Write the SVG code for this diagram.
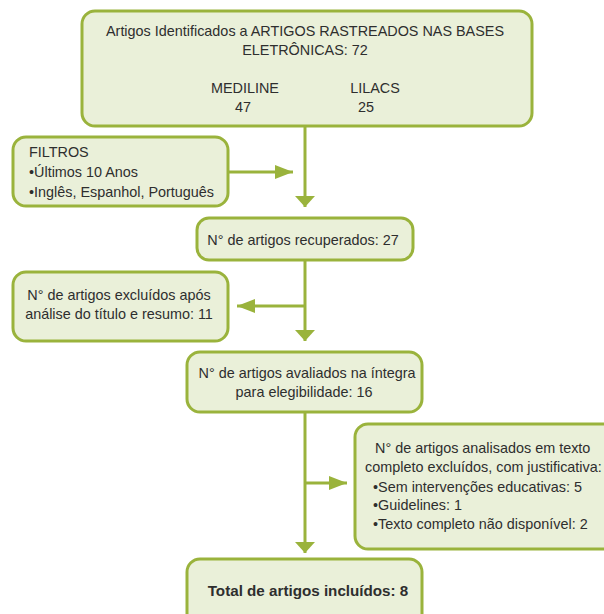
<svg xmlns="http://www.w3.org/2000/svg" width="604" height="614" viewBox="0 0 604 614">
<style>
.box{fill:#eaf0d9;stroke:#9ab33c;stroke-width:3}
.t{font-family:"Liberation Sans",Arial,sans-serif;font-size:14.4px;fill:#2e2e2e}
.c{text-anchor:middle}
.b{font-weight:bold;font-size:15.2px}
.ln{stroke:#9ab33c;stroke-width:3;fill:none}
</style>
<defs>
<marker id="down" markerUnits="userSpaceOnUse" markerWidth="12" markerHeight="20" refX="11" refY="10" orient="auto">
<path d="M0,0 L11,10 L0,20 z" fill="#9ab33c"/>
</marker>
<marker id="side" markerUnits="userSpaceOnUse" markerWidth="18" markerHeight="14" refX="18" refY="7" orient="auto">
<path d="M0,0 L18,7 L0,14 z" fill="#9ab33c"/>
</marker>
</defs>
<g id="connectors">
<line class="ln" x1="305" y1="126" x2="305" y2="207" marker-end="url(#down)"/>
<line class="ln" x1="228" y1="172" x2="293" y2="172" marker-end="url(#side)"/>
<line class="ln" x1="305" y1="260" x2="305" y2="341" marker-end="url(#down)"/>
<line class="ln" x1="306" y1="306" x2="237" y2="306" marker-end="url(#side)"/>
<line class="ln" x1="305" y1="412" x2="305" y2="553" marker-end="url(#down)"/>
<line class="ln" x1="304" y1="483" x2="347" y2="483" marker-end="url(#side)"/>
</g>
<g id="n1">
<rect class="box" x="82" y="11" width="450" height="115" rx="13"/>
<text class="t c" x="305" y="36">Artigos Identificados a ARTIGOS RASTREADOS NAS BASES</text>
<text class="t c" x="305" y="55">ELETRÔNICAS: 72</text>
<text class="t c" x="245" y="93">MEDILINE</text>
<text class="t c" x="243" y="112">47</text>
<text class="t c" x="375" y="93">LILACS</text>
<text class="t c" x="366" y="112">25</text>
</g>
<g id="filtros">
<rect class="box" x="13" y="137" width="215" height="69" rx="13"/>
<text class="t" x="29" y="157">FILTROS</text>
<text class="t" x="29" y="177">•Últimos 10 Anos</text>
<text class="t" x="29" y="197">•Inglês, Espanhol, Português</text>
</g>
<g id="recuperados">
<rect class="box" x="197" y="218" width="216" height="42" rx="12"/>
<text class="t c" x="303" y="245">N° de artigos recuperados: 27</text>
</g>
<g id="excluidos">
<rect class="box" x="13" y="272" width="215" height="69" rx="13"/>
<text class="t c" x="119" y="300">N° de artigos excluídos após</text>
<text class="t c" x="119" y="319">análise do título e resumo: 11</text>
</g>
<g id="avaliados">
<rect class="box" x="187" y="352" width="235" height="60" rx="13"/>
<text class="t c" x="307" y="378">N° de artigos avaliados na íntegra</text>
<text class="t c" x="304" y="397">para elegibilidade: 16</text>
</g>
<g id="analisados">
<rect class="box" x="355" y="424" width="270" height="125" rx="13"/>
<text class="t" x="375" y="453">N° de artigos analisados em texto</text>
<text class="t" x="365" y="472">completo excluídos, com justificativa:</text>
<text class="t" x="373" y="492">•Sem intervenções educativas: 5</text>
<text class="t" x="373" y="510">•Guidelines: 1</text>
<text class="t" x="373" y="529">•Texto completo não disponível: 2</text>
</g>
<g id="total">
<rect class="box" x="187" y="559" width="235" height="70" rx="13"/>
<text class="t c b" x="308" y="596">Total de artigos incluídos: 8</text>
</g>
</svg>
